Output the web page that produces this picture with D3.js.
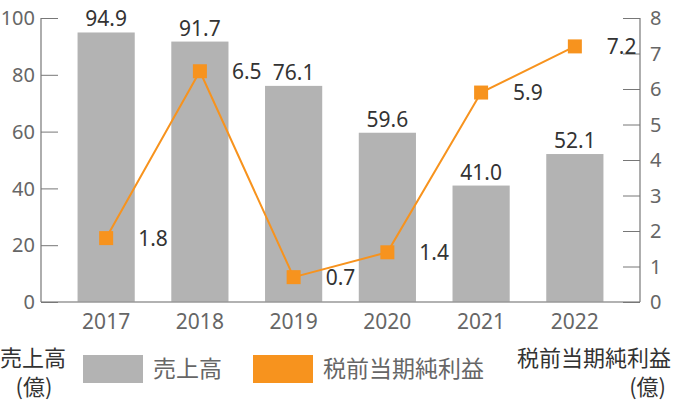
<!DOCTYPE html>
<html><head><meta charset="utf-8">
<script src="https://cdn.jsdelivr.net/npm/d3@7"></script>
<style>
body{margin:0;background:#fff;}
text{font-family:"Noto Sans","Noto Sans CJK JP",sans-serif;}
.cjk{font-family:"Noto Sans CJK JP",sans-serif;}
</style></head>
<body>
<svg id="c" width="673" height="407"></svg>
<script>
const years = ["2017","2018","2019","2020","2021","2022"];
const sales = [94.9, 91.7, 76.1, 59.6, 41.0, 52.1];
const profit = [1.8, 6.5, 0.7, 1.4, 5.9, 7.2];
const leftTicks = [0,20,40,60,80,100];
const rightTicks = [0,1,2,3,4,5,6,7,8];

const svg = d3.select("#c");
const x0 = 41, x1 = 640, yTop = 18, yBot = 302;
const x = d3.scaleBand().domain(years).range([x0, x1]).padding(0.39);
const yL = d3.scaleLinear().domain([0,100]).range([yBot, yTop]);
const yR = d3.scaleLinear().domain([0,8]).range([yBot, yTop]);
const grey = "#b3b3b3", orange = "#f7931e";

// bars
svg.selectAll("rect.bar").data(years).join("rect")
  .attr("x", d => x(d)).attr("width", x.bandwidth())
  .attr("y", (d,i) => yL(sales[i])).attr("height", (d,i) => yBot - yL(sales[i]))
  .attr("fill", grey);

// baseline
svg.append("line").attr("x1", x0).attr("x2", x1).attr("y1", yBot).attr("y2", yBot)
  .attr("stroke", "#999").attr("stroke-width", 1.5);

// left axis
const gl = svg.append("g").attr("transform", `translate(${x0},0)`)
  .call(d3.axisRight(yL).tickValues(leftTicks).tickSize(17).tickFormat(""));
gl.select(".domain").remove();
gl.selectAll(".tick line").attr("stroke", "#777");
svg.append("line").attr("x1", x0).attr("x2", x0).attr("y1", yTop).attr("y2", yBot).attr("stroke", "#777").attr("stroke-width", 1.2);
svg.selectAll("text.lt").data(leftTicks).join("text")
  .attr("x", 35).attr("y", d => yL(d)).attr("dy", "0.36em")
  .attr("text-anchor", "end").attr("font-size", 20).attr("fill", "#666").text(d => d);

// right axis
const gr = svg.append("g").attr("transform", `translate(${x1},0)`)
  .call(d3.axisLeft(yR).tickValues(rightTicks).tickSize(17).tickFormat(""));
gr.select(".domain").remove();
gr.selectAll(".tick line").attr("stroke", "#777");
svg.append("line").attr("x1", x1).attr("x2", x1).attr("y1", yTop).attr("y2", yBot).attr("stroke", "#777").attr("stroke-width", 1.2);
svg.selectAll("text.rt").data(rightTicks).join("text")
  .attr("x", 650).attr("y", d => yR(d)).attr("dy", "0.36em")
  .attr("text-anchor", "start").attr("font-size", 20).attr("fill", "#666").text(d => d);

// x labels
svg.selectAll("text.xl").data(years).join("text")
  .attr("x", d => x(d) + x.bandwidth()/2).attr("y", 321).attr("dy", "0.36em")
  .attr("text-anchor", "middle").attr("font-size", 21).attr("fill", "#666").text(d => d);

// bar labels
svg.selectAll("text.bl").data(years).join("text")
  .attr("x", d => x(d) + x.bandwidth()/2).attr("y", (d,i) => yL(sales[i]) - 6)
  .attr("text-anchor", "middle").attr("font-size", 21).attr("fill", "#333").text((d,i) => sales[i].toFixed(1));

// line
const cx = d => x(d) + x.bandwidth()/2;
svg.append("path").datum(years)
  .attr("d", d3.line().x(d => cx(d)).y((d,i) => yR(profit[i])))
  .attr("fill", "none").attr("stroke", orange).attr("stroke-width", 2);
svg.selectAll("rect.mk").data(years).join("rect")
  .attr("x", d => cx(d) - 7).attr("y", (d,i) => yR(profit[i]) - 7)
  .attr("width", 14).attr("height", 14).attr("fill", orange);
svg.selectAll("text.pl").data(years).join("text")
  .attr("x", d => cx(d) + 32).attr("y", (d,i) => yR(profit[i])).attr("dy", "0.36em")
  .attr("text-anchor", "start").attr("font-size", 21).attr("fill", "#333").text((d,i) => profit[i].toFixed(1));

// corner labels
svg.append("text").attr("class","cjk").attr("x", 0).attr("y", 358).attr("dy","0.36em")
  .attr("font-size", 22).attr("fill", "#333").text("売上高");
svg.append("text").attr("class","cjk").attr("x", 34).attr("y", 387).attr("dy","0.36em")
  .attr("text-anchor","middle").attr("font-size", 22).attr("fill", "#333").text("(億)");
svg.append("text").attr("class","cjk").attr("x", 671).attr("y", 358).attr("dy","0.36em")
  .attr("text-anchor","end").attr("font-size", 22).attr("fill", "#333").text("税前当期純利益");
svg.append("text").attr("class","cjk").attr("x", 666).attr("y", 387).attr("dy","0.36em")
  .attr("text-anchor","end").attr("font-size", 22).attr("fill", "#333").text("(億)");

// legend
const legend = [{label:"売上高", color:grey, x:83}, {label:"税前当期純利益", color:orange, x:253}];
legend.forEach(l => {
  svg.append("rect").attr("x", l.x).attr("y", 355).attr("width", 60).attr("height", 28).attr("fill", l.color);
  svg.append("text").attr("class","cjk").attr("x", l.x + 70).attr("y", 369).attr("dy","0.36em")
    .attr("font-size", 23).attr("fill", "#666").text(l.label);
});
</script>
</body></html>
